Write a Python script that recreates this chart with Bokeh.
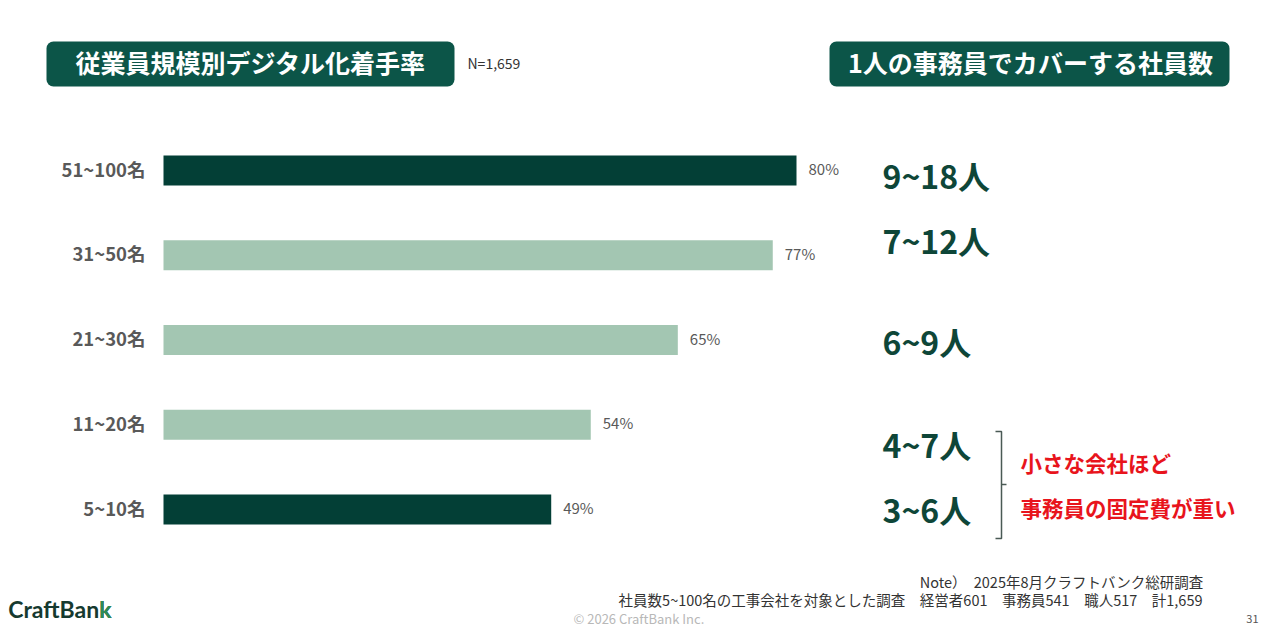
from bokeh.plotting import figure
from bokeh.models import Range1d, ColumnDataSource
from bokeh.core.properties import value
from bokeh.embed import file_html
from bokeh.resources import INLINE

# ---- data ----
categories = ["51~100名", "31~50名", "21~30名", "11~20名", "5~10名"]
rates = [80, 77, 65, 54, 49]
coverage = ["9~18人", "7~12人", "6~9人", "4~7人", "3~6人"]
highlighted = ["51~100名", "5~10名"]
title_left = "従業員規模別デジタル化着手率"
title_right = "1人の事務員でカバーする社員数"
sample_note = "N=1,659"
callout = ["小さな会社ほど", "事務員の固定費が重い"]
note_lines = ["Note）　2025年8月クラフトバンク総研調査",
              "社員数5~100名の工事会社を対象とした調査　経営者601　事務員541　職人517　計1,659"]

# ---- layout ----
W, H = 1270, 628
X0 = 163.0      # px of 0 %
S = 7.9125      # px per percent
Y0 = 170.0      # px of first category centre
D = 84.75       # px per category step

def X(sx):
    return (sx - X0) / S

def Y(sy):
    return (sy - Y0) / D

JP = value("Noto Sans CJK JP")
DARK = "#033f36"
LIGHT = "#a3c6b2"
HEAD = "#0c5548"
GRAY = "#595959"
GREEN_TXT = "#0e4638"
RED = "#e8141c"

p = figure(width=W, height=H, output_backend="svg", toolbar_location=None,
           x_range=Range1d(X(0), X(W)), y_range=Range1d(Y(H), Y(0)),
           min_border=0, outline_line_color=None)
p.axis.visible = False
p.grid.visible = False
p.background_fill_color = "white"
p.border_fill_color = "white"

idx = list(range(len(categories)))
colors = [DARK if c in highlighted else LIGHT for c in categories]
src = ColumnDataSource(dict(y=idx, cat=categories, rate=rates, color=colors,
                            lab=[f"{v}%" for v in rates],
                            labx=[v + 12 / S for v in rates],
                            laby=[i - 2 / D for i in idx]))

p.hbar(y="y", left=0, right="rate", height=30 / D, color="color",
       line_color=None, source=src)

p.text(x="labx", y="laby", text="lab", source=src, text_font=JP,
       text_font_size="15px", text_color=GRAY, text_baseline="middle")

p.text(x=X(145), y="laby", text="cat", source=src, text_font=JP,
       text_font_size="18.5px", text_font_style="bold", text_color=GRAY,
       text_align="right", text_baseline="middle")

# coverage column
cov_off = [4, -15, 1, 19, -1]
p.text(x=[X(882)] * len(coverage), y=[i + o / D for i, o in zip(idx, cov_off)],
       text=coverage, text_font=JP, text_font_size="32px", text_font_style="bold",
       text_color=GREEN_TXT, text_baseline="middle")

# header boxes
p.quad(left=[X(46), X(829)], right=[X(454), X(1229)], top=[Y(41), Y(41)],
       bottom=[Y(86), Y(86)], color=HEAD, line_color=None, border_radius=7)
p.text(x=[X(250), X(1030)], y=[Y(61.5), Y(61.5)], text=[title_left, title_right],
       text_font=JP, text_font_size="25px", text_font_style="bold",
       text_color="white", text_align="center", text_baseline="middle")
p.text(x=[X(467)], y=[Y(62)], text=[sample_note], text_font=JP,
       text_font_size="14px", text_color="#333333", text_baseline="middle")

# bracket
bc = "#4a5a55"
p.multi_line(xs=[[X(995), X(1001), X(1001), X(995)], [X(1001), X(1006)]],
             ys=[[Y(431), Y(431), Y(538), Y(538)], [Y(484), Y(484)]],
             line_color=bc, line_width=1.5)
p.text(x=[X(1020), X(1020)], y=[Y(461.5), Y(507)], text=callout, text_font=JP,
       text_font_size="21.5px", text_font_style="bold", text_color=RED,
       text_baseline="middle")

# footer
p.text(x=[X(1202), X(1202)], y=[Y(580.5), Y(598.5)], text=note_lines, text_font=JP,
       text_font_size="14.5px", text_color="#333333", text_align="right",
       text_baseline="middle")
p.text(x=[X(573)], y=[Y(618)], text=["© 2026 CraftBank Inc."], text_font=JP,
       text_font_size="13px", text_color="#b8b8b8", text_baseline="middle")
p.text(x=[X(1258)], y=[Y(618)], text=["31"], text_font=JP,
       text_font_size="11px", text_color="#555555", text_align="right",
       text_baseline="middle")
p.text(x=[X(111)], y=[Y(608)], text=["CraftBank"], text_font=value("Lato"),
       text_font_size="23px", text_font_style="bold", text_color="#163a2f",
       text_align="right", text_baseline="middle")
p.text(x=[X(111)], y=[Y(608)], text=["k"], text_font=value("Lato"),
       text_font_size="23px", text_font_style="bold", text_color="#2f8a55",
       text_align="right", text_baseline="middle")

open("out.html", "w").write(file_html(p, INLINE))
